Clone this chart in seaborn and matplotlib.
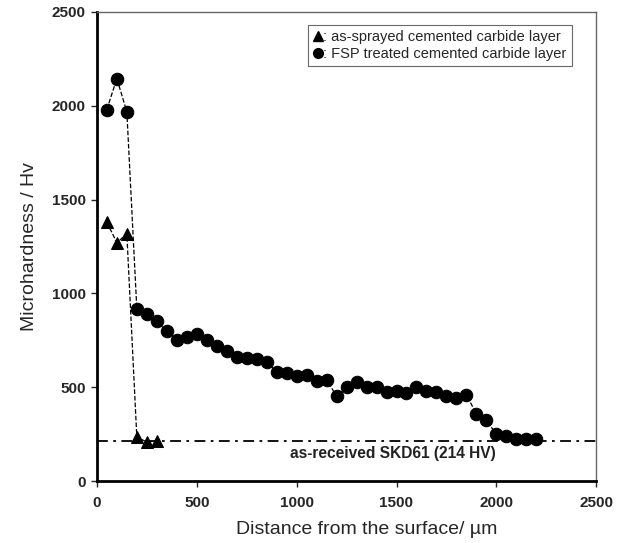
import numpy as np
import pandas as pd
import matplotlib
matplotlib.use('Agg')
import matplotlib.pyplot as plt
from matplotlib.lines import Line2D
import seaborn as sns

# distance from surface (um) and hardness (HV)
sprayed_x = [50, 100, 150, 200, 250, 300]
sprayed_hv = [1380, 1270, 1318, 235, 208, 215]

fsp_x = [50, 100, 150, 200, 250, 300, 350, 400, 450, 500, 550, 600, 650, 700, 750,
         800, 850, 900, 950, 1000, 1050, 1100, 1150, 1200, 1250, 1300, 1350, 1400,
         1450, 1500, 1550, 1600, 1650, 1700, 1750, 1800, 1850, 1900, 1950, 2000,
         2050, 2100, 2150, 2200]
fsp_hv = [1980, 2145, 1968, 918, 892, 853, 798, 753, 767, 785, 753, 719, 693, 661, 658,
          648, 636, 580, 576, 558, 566, 533, 541, 452, 500, 526, 500, 500,
          477, 482, 470, 503, 479, 477, 452, 445, 460, 358, 323, 250,
          242, 225, 225, 225]

base_hv = 214
base_label = 'as-received SKD61 (214 HV)'
legend_labels = [': as-sprayed cemented carbide layer',
                 ': FSP treated cemented carbide layer']

sns.set_style('white')
plt.rcParams['font.family'] = ['Liberation Sans', 'DejaVu Sans']

fig = plt.figure(figsize=(6.25, 5.43), dpi=100)
ax = fig.add_axes([0.155, 0.114, 0.799, 0.864])

df_s = pd.DataFrame({'x': sprayed_x, 'hv': sprayed_hv})
df_f = pd.DataFrame({'x': fsp_x, 'hv': fsp_hv})

sns.lineplot(data=df_s, x='x', y='hv', ax=ax, color='black', lw=0.9, linestyle='--',
             marker='^', markersize=9, markeredgecolor='black', markerfacecolor='black',
             legend=False, zorder=3)
sns.lineplot(data=df_f, x='x', y='hv', ax=ax, color='black', lw=0.9, linestyle='--',
             marker='o', markersize=9, markeredgecolor='black', markerfacecolor='black',
             legend=False, zorder=3)

ax.axhline(base_hv, color='black', lw=1.3, linestyle=(0, (6, 3, 1.5, 3)), zorder=2)
ax.text(1483, 148, base_label, ha='center', va='center', fontsize=11.2,
        fontweight='bold', color='#222222')

handles = [Line2D([], [], ls='none', marker='^', ms=7, color='black'),
           Line2D([], [], ls='none', marker='o', ms=7, color='black')]
leg = ax.legend(handles, legend_labels, loc='upper right', bbox_to_anchor=(0.952, 0.973),
                fontsize=10.5, handlelength=0.6, handletextpad=0.05, borderpad=0.4,
                labelspacing=0.15, fancybox=False, frameon=True, borderaxespad=0)
leg.get_frame().set_edgecolor('#444444')
leg.get_frame().set_linewidth(0.8)

ax.set_xlim(0, 2500)
ax.set_ylim(0, 2500)
ax.set_xticks(np.arange(0, 2501, 500))
ax.set_yticks(np.arange(0, 2501, 500))
ax.tick_params(axis='both', direction='out', length=4, width=1, labelsize=11,
               bottom=True, left=True)
ax.tick_params(axis='x', pad=7)
ax.tick_params(axis='y', pad=4)
for lab in ax.get_xticklabels() + ax.get_yticklabels():
    lab.set_fontweight('bold')

ax.set_xlabel('Distance from the surface/ \u00b5m', fontsize=14, labelpad=4)
ax.xaxis.set_label_coords(0.54, -0.085)
ax.set_ylabel('Microhardness / Hv', fontsize=14, labelpad=10)

for s in ['left', 'bottom']:
    ax.spines[s].set_color('black')
    ax.spines[s].set_linewidth(2)
for s in ['top', 'right']:
    ax.spines[s].set_color('#666666')
    ax.spines[s].set_linewidth(1)

fig.savefig('out.png', dpi=100)
